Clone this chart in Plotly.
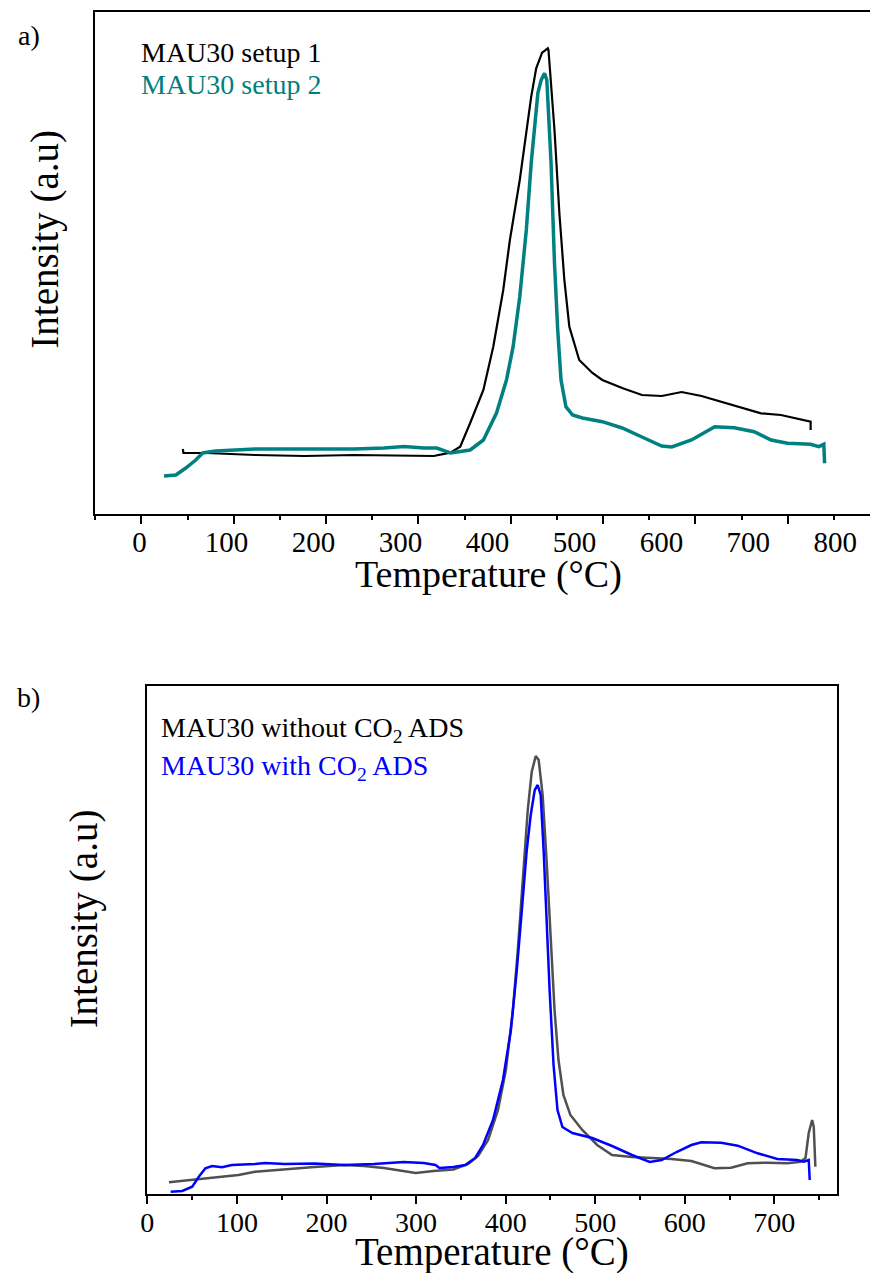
import plotly.graph_objects as go

# ---------------- Panel a) data (Temperature °C, intensity a.u.) ----------------
setup1_T = [44.8, 45.5, 53.4, 69.5, 123.2, 176.9, 230.6, 284.3, 316.5, 334.5, 345.2, 356.0,
            370.3, 381.0, 391.8, 399.0, 409.7, 422.1, 427.5, 433.9, 440.1, 440.8, 447.3,
            452.6, 458.0, 463.4, 474.1, 488.4, 499.1, 520.6, 542.0, 563.5, 585.0, 606.5,
            635.2, 671.0, 692.5, 724.7, 724.7]
setup1_I = [65, 61, 61, 61, 59, 58, 59, 58, 58, 61.3, 67.3, 91,
            124, 167.3, 224, 274, 334, 417.3, 445.7, 461.3, 465.7, 464, 384,
            301, 234, 187.3, 154, 141, 134, 126, 119, 118, 122, 118,
            110, 100.7, 99, 92.3, 84]

setup2_T = [24.4, 37.3, 48.0, 58.8, 66.3, 80.3, 123.2, 176.9, 230.6, 262.8, 284.3, 305.8,
            319.8, 334.5, 356.0, 370.3, 384.5, 395.3, 402.5, 409.7, 416.8, 422.1, 427.5,
            429.3, 432.9, 436.5, 439.0, 443.6, 447.3, 450.8, 454.4, 459.7, 466.9, 477.6,
            499.1, 520.6, 542.0, 563.5, 574.3, 595.7, 620.8, 642.0, 663.5, 681.8, 699.7,
            724.7, 733.6, 739.0, 739.8]
setup2_I = [38, 39, 46, 54, 61, 63, 65, 65, 65, 66, 67.5, 66,
            66, 61, 64, 74, 101, 134, 167.3, 217.3, 284, 351, 401,
            421, 434, 440.7, 434, 351, 251, 184, 134, 107.3, 99, 96,
            92.3, 86, 77, 68, 67, 74, 87.3, 86.3, 82.3, 74, 70.7,
            69.7, 67.3, 69.7, 50.7]

# ---------------- Panel b) data ----------------
noads_T = [24.1, 50.1, 75.9, 101.7, 120.2, 153.4, 186.6, 219.8, 241.9, 264.1, 286.3, 299.6,
           319.5, 341.6, 358.3, 369.3, 380.4, 391.5, 400.3, 408.1, 413.6, 419.2, 424.7,
           429.1, 433.6, 436.9, 441.3, 445.7, 450.2, 454.6, 459.0, 464.5, 472.3, 485.6,
           502.2, 518.8, 541.0, 563.1, 585.3, 607.4, 633.2, 651.7, 670.2, 692.4, 714.5,
           729.2, 734.8, 738.4, 742.2, 744.0, 745.8]
noads_I = [11.7, 14, 16.7, 19, 22.3, 25, 27, 29, 28, 26, 23, 21,
           23, 24.5, 30, 38, 54, 84, 124, 184, 244, 314, 384,
           422, 438, 434, 399, 334, 254, 184, 134, 99, 79, 64,
           49, 39, 37, 36, 35, 33, 25.7, 26.3, 30.7, 31.3, 30.7,
           32.3, 36, 61, 74, 67.3, 27.3]

ads_T = [26.0, 39.0, 50.1, 57.4, 64.8, 72.2, 83.3, 94.4, 120.2, 131.2, 153.4, 186.6,
         219.8, 253.0, 286.3, 308.4, 321.7, 326.1, 341.6, 354.9, 366.0, 374.8, 385.9,
         397.0, 405.9, 412.5, 418.1, 423.6, 428.0, 432.5, 435.8, 439.1, 442.4, 445.7,
         449.1, 453.5, 457.9, 463.4, 474.5, 496.7, 518.8, 541.0, 560.9, 574.2, 590.8,
         607.4, 618.5, 640.6, 659.1, 681.3, 703.4, 725.6, 732.9, 738.4, 739.5]
ads_I = [2.3, 3, 7.3, 17.3, 25.7, 28, 26.7, 29, 30, 31, 30, 30.5,
         29, 30, 32, 31, 29, 26, 27, 29, 36, 49, 74,
         114, 164, 224, 284, 344, 379, 404, 409, 399, 344, 274,
         204, 129, 84, 67, 61, 56, 48, 39, 32, 34, 42,
         49, 51.7, 51.3, 48.3, 40.7, 35, 34, 32.3, 34, 14]

top_tick_vals = [0, 100, 200, 300, 400, 500, 600, 700, 800]
top_tick_text = ["0", "100", "200", "300", "400", "500", "600", "700", "800"]
bottom_tick_vals = [0, 100, 200, 300, 400, 500, 600, 700]
bottom_tick_text = ["0", "100", "200", "300", "400", "500", "600", "700"]

FONT = "Liberation Serif, Times New Roman, Times, serif"
W, H = 870, 1273

def px_x(p):
    return p / W

def px_y(p):
    return 1 - p / H

fig = go.Figure()

fig.add_trace(go.Scatter(x=setup1_T, y=setup1_I, mode="lines", name="MAU30 setup 1",
                         line=dict(color="#000000", width=2.2), xaxis="x", yaxis="y"))
fig.add_trace(go.Scatter(x=setup2_T, y=setup2_I, mode="lines", name="MAU30 setup 2",
                         line=dict(color="#008080", width=3.5), xaxis="x", yaxis="y"))
# empty traces so the tick-label axes are instantiated
fig.add_trace(go.Scatter(x=[], y=[], mode="lines", showlegend=False, xaxis="x3", yaxis="y"))
fig.add_trace(go.Scatter(x=[], y=[], mode="lines", showlegend=False, xaxis="x4", yaxis="y2"))

fig.add_trace(go.Scatter(x=noads_T, y=noads_I, mode="lines", name="MAU30 without CO2 ADS",
                         line=dict(color="#505050", width=2.5), xaxis="x2", yaxis="y2"))
fig.add_trace(go.Scatter(x=ads_T, y=ads_I, mode="lines", name="MAU30 with CO2 ADS",
                         line=dict(color="#0000FF", width=2.5), xaxis="x2", yaxis="y2"))

axis_common = dict(showgrid=False, zeroline=False, linecolor="black", linewidth=2)

fig.update_layout(
    width=W, height=H,
    margin=dict(l=0, r=0, t=0, b=0),
    paper_bgcolor="white", plot_bgcolor="white",
    showlegend=False,
    font=dict(family=FONT, color="black"),
    xaxis=dict(domain=[px_x(89), 1.0], anchor="y", range=[-50, 789],
               showline=True, mirror=True, ticks="outside", ticklen=8, tickwidth=1.5,
               tickcolor="black", tick0=0, dtick=100, showticklabels=False,
               minor=dict(dtick=50, ticks="outside", ticklen=4, tickwidth=1.5,
                          tickcolor="black", showgrid=False),
               **axis_common),
    xaxis3=dict(overlaying="x", anchor="y", range=[-50.7, 839.8], side="bottom",
                tickmode="array", tickvals=top_tick_vals, ticktext=top_tick_text,
                ticks="outside", ticklen=2, tickcolor="rgba(0,0,0,0)",
                showline=False, showgrid=False, zeroline=False,
                tickfont=dict(family=FONT, size=29, color="black")),
    yaxis=dict(domain=[px_y(514), px_y(12)], anchor="x", range=[0, 502],
               showline=True, mirror=False, ticks="", showticklabels=False,
               **axis_common),
    xaxis2=dict(domain=[px_x(141.5), px_x(836.5)], anchor="y2", range=[0, 769.7],
                showline=True, mirror=True, ticks="outside", ticklen=8, tickwidth=1.5,
                tickcolor="black", tick0=0, dtick=100, showticklabels=False,
                minor=dict(dtick=50, ticks="outside", ticklen=4, tickwidth=1.5,
                           tickcolor="black", showgrid=False),
                **axis_common),
    xaxis4=dict(overlaying="x2", anchor="y2", range=[0, 769.7], side="bottom",
                tickmode="array", tickvals=bottom_tick_vals, ticktext=bottom_tick_text,
                ticks="outside", ticklen=3, tickcolor="rgba(0,0,0,0)",
                showline=False, showgrid=False, zeroline=False,
                tickfont=dict(family=FONT, size=28, color="black")),
    yaxis2=dict(domain=[px_y(1194), px_y(686)], anchor="x2", range=[0, 508],
                showline=True, mirror=True, ticks="", showticklabels=False,
                **axis_common),
)

def ann(text, x, y, size, color="black", xanchor="center", angle=0):
    fig.add_annotation(text=text, x=px_x(x), y=px_y(y), xref="paper", yref="paper",
                       xanchor=xanchor, yanchor="middle", showarrow=False,
                       textangle=angle, font=dict(family=FONT, size=size, color=color))

ann("a)", 22, 35, 28)
ann("b)", 22, 697, 28)
ann("MAU30 setup 1", 133, 52, 28, xanchor="left")
ann("MAU30 setup 2", 133, 84, 28, color="#008080", xanchor="left")
ann("MAU30 without CO<sub>2</sub> ADS", 153, 730, 28, xanchor="left")
ann("MAU30 with CO<sub>2</sub> ADS", 153, 767, 28, color="#0000FF", xanchor="left")
ann("Temperature (°C)", 485, 574, 38)
ann("Temperature (°C)", 489, 1252, 39)
ann("Intensity (a.u)", 38, 239, 39, angle=-90)
ann("Intensity (a.u)", 78, 919, 39, angle=-90)

fig.write_html("out.html")
